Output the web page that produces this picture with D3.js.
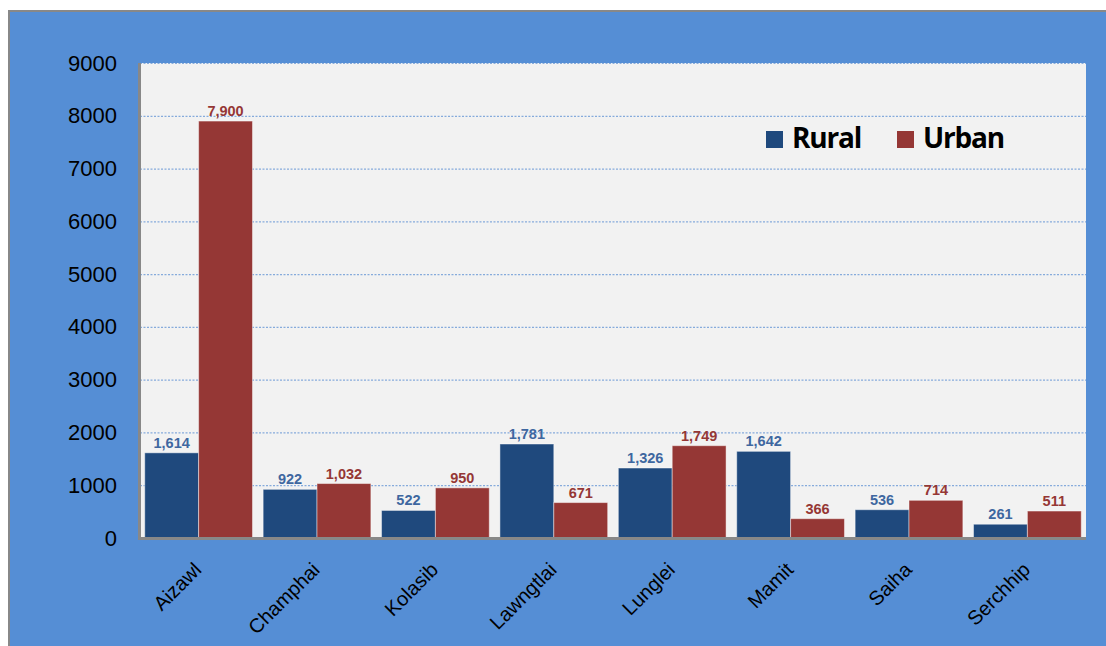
<!DOCTYPE html>
<html><head><meta charset="utf-8">
<script src="https://cdn.jsdelivr.net/npm/d3@7/dist/d3.min.js"></script>
<style>html,body{margin:0;padding:0;background:#fff;}svg{display:block;}</style>
</head><body>
<script>
const categories = ["Aizawl","Champhai","Kolasib","Lawngtlai","Lunglei","Mamit","Saiha","Serchhip"];
const seriesNames = ["Rural","Urban"];
const rural = [1614, 922, 522, 1781, 1326, 1642, 536, 261];
const urban = [7900, 1032, 950, 671, 1749, 366, 714, 511];
const yTicks = [0,1000,2000,3000,4000,5000,6000,7000,8000,9000];

const W = 1106, H = 646;
const colors = {Rural:"#1f497d", Urban:"#953735"};
const labelColors = {Rural:"#3e67a0", Urban:"#953735"};
const m = {left:140, right:1086, top:63, bottom:538};

const svg = d3.select("body").append("svg").attr("width",W).attr("height",H);
// frame
svg.append("rect").attr("x",8).attr("y",10).attr("width",W-8).attr("height",H-10).attr("fill","#888");
svg.append("rect").attr("x",10).attr("y",12).attr("width",W-10).attr("height",H-12).attr("fill","#558ed5");
// plot area
svg.append("rect").attr("x",m.left).attr("y",m.top).attr("width",m.right-m.left).attr("height",m.bottom-m.top).attr("fill","#f2f2f2");

const x0 = d3.scaleBand().domain(categories).range([m.left,m.right]).paddingInner(0.09).paddingOuter(0.04);
const x1 = d3.scaleBand().domain(seriesNames).range([0,x0.bandwidth()]);
const y = d3.scaleLinear().domain([0,9000]).range([m.bottom,m.top]);

// gridlines
svg.append("g").selectAll("line").data(yTicks.filter(d=>d>0)).join("line")
  .attr("x1",m.left).attr("x2",m.right).attr("y1",d=>y(d)+0.5).attr("y2",d=>y(d)+0.5)
  .attr("stroke","#86abdc").attr("stroke-width",1.2).attr("stroke-dasharray","2,1.5");

// y axis
const yAxis = d3.axisLeft(y).tickValues(yTicks).tickFormat(d3.format("d")).tickSize(0).tickPadding(23);
const gy = svg.append("g").attr("transform",`translate(${m.left},0)`).call(yAxis);
gy.select(".domain").remove();
gy.selectAll("text").attr("font-family","Liberation Sans, Arial, sans-serif").attr("font-size",22).attr("fill","#000");

const data = categories.map((c,i)=>({cat:c, values:[{k:"Rural",v:rural[i]},{k:"Urban",v:urban[i]}]}));
const groups = svg.append("g").selectAll("g").data(data).join("g")
  .attr("transform",d=>`translate(${x0(d.cat)},0)`);
groups.selectAll("rect").data(d=>d.values).join("rect")
  .attr("x",d=>x1(d.k)).attr("width",x1.bandwidth())
  .attr("y",d=>y(d.v)).attr("height",d=>m.bottom-y(d.v))
  .attr("fill",d=>colors[d.k]).attr("stroke","rgba(255,255,255,0.45)").attr("stroke-width",1);
groups.selectAll("text").data(d=>d.values).join("text")
  .attr("x",d=>x1(d.k)+x1.bandwidth()/2).attr("y",d=>y(d.v)-5)
  .attr("text-anchor","middle").attr("font-family","Liberation Sans, Arial, sans-serif")
  .attr("font-weight","bold").attr("font-size",14.5).attr("fill",d=>labelColors[d.k])
  .text(d=>d3.format(",")(d.v));

// axes lines
svg.append("line").attr("x1",m.left-0.5).attr("x2",m.left-0.5).attr("y1",m.top).attr("y2",m.bottom+1)
  .attr("stroke","#888").attr("stroke-width",3);
svg.append("line").attr("x1",m.left-2).attr("x2",m.right).attr("y1",m.bottom+0.5).attr("y2",m.bottom+0.5)
  .attr("stroke","#888").attr("stroke-width",3);

// x axis labels
const xAxis = d3.axisBottom(x0).tickSize(0).tickPadding(0);
const gx = svg.append("g").attr("transform",`translate(0,${m.bottom})`).call(xAxis);
gx.select(".domain").remove();
gx.selectAll("text").attr("font-family","Liberation Sans, Arial, sans-serif").attr("font-size",20).attr("fill","#000")
  .attr("text-anchor","end").attr("dy",0).attr("y",0)
  .attr("transform","translate(4,33) rotate(-45)");

// legend
const leg = svg.append("g");
const legPos = [{k:"Rural",x:766},{k:"Urban",x:897}];
legPos.forEach(p=>{
  leg.append("rect").attr("x",p.x).attr("y",131).attr("width",17).attr("height",17).attr("fill",colors[p.k]);
  leg.append("text").attr("x",p.x+26).attr("y",148).attr("font-family","Open Sans, sans-serif")
    .attr("font-weight","bold").attr("font-size",28).attr("fill","#000").attr("letter-spacing",-1.2).text(p.k);
});
</script>
</body></html>
